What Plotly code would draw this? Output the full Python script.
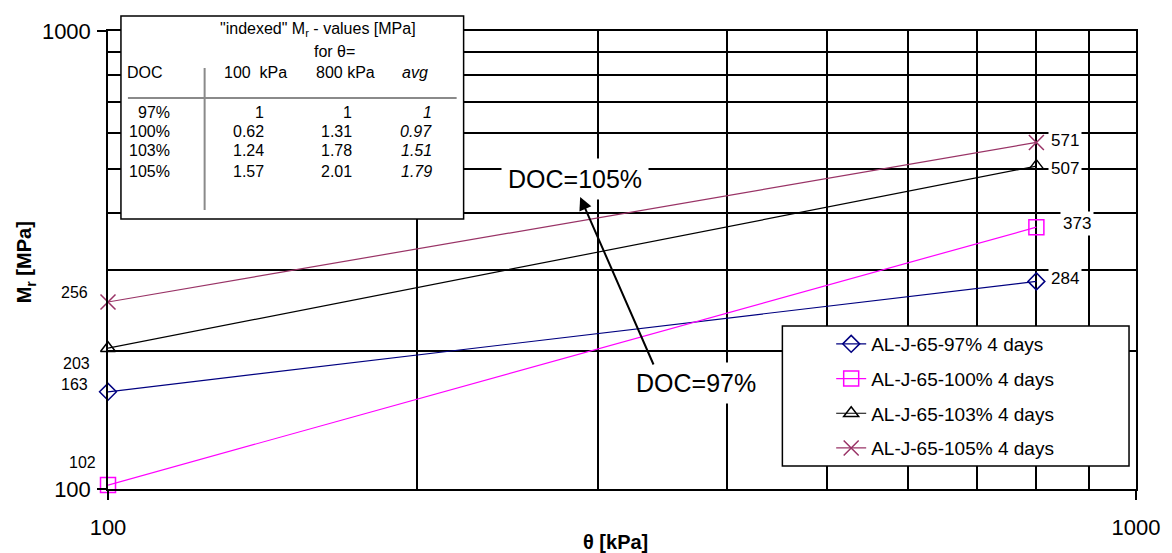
import math
import plotly.graph_objects as go

# ---------------- data ----------------
theta = [100, 800]
series_names = ["AL-J-65-97% 4 days", "AL-J-65-100% 4 days",
                "AL-J-65-103% 4 days", "AL-J-65-105% 4 days"]
mr_97 = [163, 284]
mr_100 = [102, 373]
mr_103 = [203, 507]
mr_105 = [256, 571]

colors = ["#000080", "#FF00FF", "#000000", "#993366"]
symbols = ["diamond-open", "square-open", "triangle-up-open", "x-thin-open"]

table_doc = ["97%", "100%", "103%", "105%"]
table_100 = ["1", "0.62", "1.24", "1.57"]
table_800 = ["1", "1.31", "1.78", "2.01"]
table_avg = ["1", "0.97", "1.51", "1.79"]

grid_vals = [200, 300, 400, 500, 600, 700, 800, 900]

# ---------------- layout geometry ----------------
W, H = 1172, 553
L, R, T, B = 108, 32, 31, 64
PW, PH = W - L - R, H - T - B


def px(x):
    return (x - L) / PW


def py(y):
    return 1 - (y - T) / PH


FONT = "Liberation Sans, Arial, sans-serif"

fig = go.Figure()
all_series = [mr_97, mr_100, mr_103, mr_105]
sizes = [13, 15, 13, 15]
for name, ys, c, s, sz in zip(series_names, all_series, colors, symbols, sizes):
    fig.add_trace(go.Scatter(
        x=theta, y=ys, mode="lines+markers", name=name, legendgroup=name,
        cliponaxis=False,
        line=dict(color=c, width=1.2),
        marker=dict(symbol=s, size=sz, color=c, line=dict(color=c, width=1.5)),
    ))

annotations = []


def pa(x, y, text, size=16, xanchor="center", **kw):
    d = dict(x=px(x), y=py(y), xref="paper", yref="paper", text=text, showarrow=False,
             xanchor=xanchor, yanchor="middle",
             font=dict(family=FONT, size=size, color="black"))
    d.update(kw)
    return d


# data labels at theta=100 (left of axis) and theta=800 (right of marker)
left_shift = [(-18, 7), (-10, 23), (-16, -15), (-18, 10)]
right_shift = [(12, 3), (24, 4), (12, -2), (12, 2)]
for ys, ls, rs in zip(all_series, left_shift, right_shift):
    annotations.append(dict(x=math.log10(theta[0]), y=math.log10(ys[0]), xref="x", yref="y",
                            text=str(ys[0]), showarrow=False, xanchor="right", yanchor="middle",
                            xshift=ls[0], yshift=ls[1],
                            font=dict(family=FONT, size=16, color="black")))
    annotations.append(dict(x=math.log10(theta[1]), y=math.log10(ys[1]), xref="x", yref="y",
                            text=str(ys[1]), showarrow=False, xanchor="left", yanchor="middle",
                            xshift=rs[0], yshift=rs[1], bgcolor="white", borderpad=2,
                            font=dict(family=FONT, size=17, color="black")))

# DOC labels, then arrow on top
annotations.append(pa(577, 179, "DOC=105%", size=25, bgcolor="white", borderpad=6))
annotations.append(pa(698, 383, "DOC=97%", size=25, bgcolor="white", borderpad=6))
annotations.append(dict(x=px(582), y=py(197), xref="paper", yref="paper", text="",
                        showarrow=True, ax=74, ay=169, axref="pixel", ayref="pixel",
                        arrowhead=2, arrowsize=1.3, arrowwidth=2, arrowcolor="black"))

# inset table texts
annotations.append(pa(319, 29, '"indexed" M<sub>r</sub> - values [MPa]'))
annotations.append(pa(335, 51, "for θ="))
annotations.append(pa(125, 72, "DOC", xanchor="left"))
annotations.append(pa(256, 72, "100  kPa"))
annotations.append(pa(346, 72, "800 kPa"))
annotations.append(pa(416, 72, "<i>avg</i>"))
row_y = [112, 131, 151, 171]
for ry, d, a, b, c in zip(row_y, table_doc, table_100, table_800, table_avg):
    for xr, t in [(172, d), (267, a), (355, b), (435, "<i>" + c + "</i>")]:
        annotations.append(pa(xr, ry, t, xanchor="right"))

# axis titles
annotations.append(pa(617, 542, "<b>θ [kPa]</b>", size=20))
annotations.append(pa(25, 262, "<b>M<sub>r</sub> [MPa]</b>", size=20, textangle=-90))

shapes = [
    # inset table box
    dict(type="rect", xref="paper", yref="paper", x0=px(121), x1=px(465), y0=py(16), y1=py(219),
         fillcolor="white", line=dict(color="black", width=1.5), layer="above"),
    dict(type="line", xref="paper", yref="paper", x0=px(128), x1=px(458), y0=py(98), y1=py(98),
         line=dict(color="#8a8a8a", width=2), layer="above"),
    dict(type="line", xref="paper", yref="paper", x0=px(205), x1=px(205), y0=py(68), y1=py(210),
         line=dict(color="#8a8a8a", width=2), layer="above"),
    # legend box
    dict(type="rect", xref="paper", yref="paper", x0=px(785), x1=px(1133), y0=py(326), y1=py(466),
         fillcolor="white", line=dict(color="black", width=1.5), layer="above"),
]

axis_common = dict(
    type="log", tickvals=[100, 1000], ticktext=["100", "1000"],
    ticks="outside", ticklen=9, tickwidth=1.5, tickcolor="black",
    showline=True, linecolor="black", linewidth=1.5, mirror=True,
    showgrid=True, gridcolor="black", gridwidth=1.5, zeroline=False,
    tickfont=dict(family=FONT, size=22, color="black"),
    minor=dict(tickvals=grid_vals, showgrid=True, gridcolor="black", gridwidth=1.5, ticks=""),
)

fig.update_layout(
    width=W, height=H,
    margin=dict(l=L, r=R, t=T, b=B),
    paper_bgcolor="white", plot_bgcolor="white",
    xaxis=dict(range=[2, 3], ticklabelstandoff=9, **axis_common),
    yaxis=dict(range=[2, 3], ticklabelstandoff=2, **axis_common),
    showlegend=True,
    legend=dict(x=px(834), y=py(325), xanchor="left", yanchor="top",
                bgcolor="rgba(0,0,0,0)", borderwidth=0, tracegroupgap=7,
                font=dict(family=FONT, size=19, color="black")),
    annotations=annotations, shapes=shapes,
)

fig.write_html("out.html")
